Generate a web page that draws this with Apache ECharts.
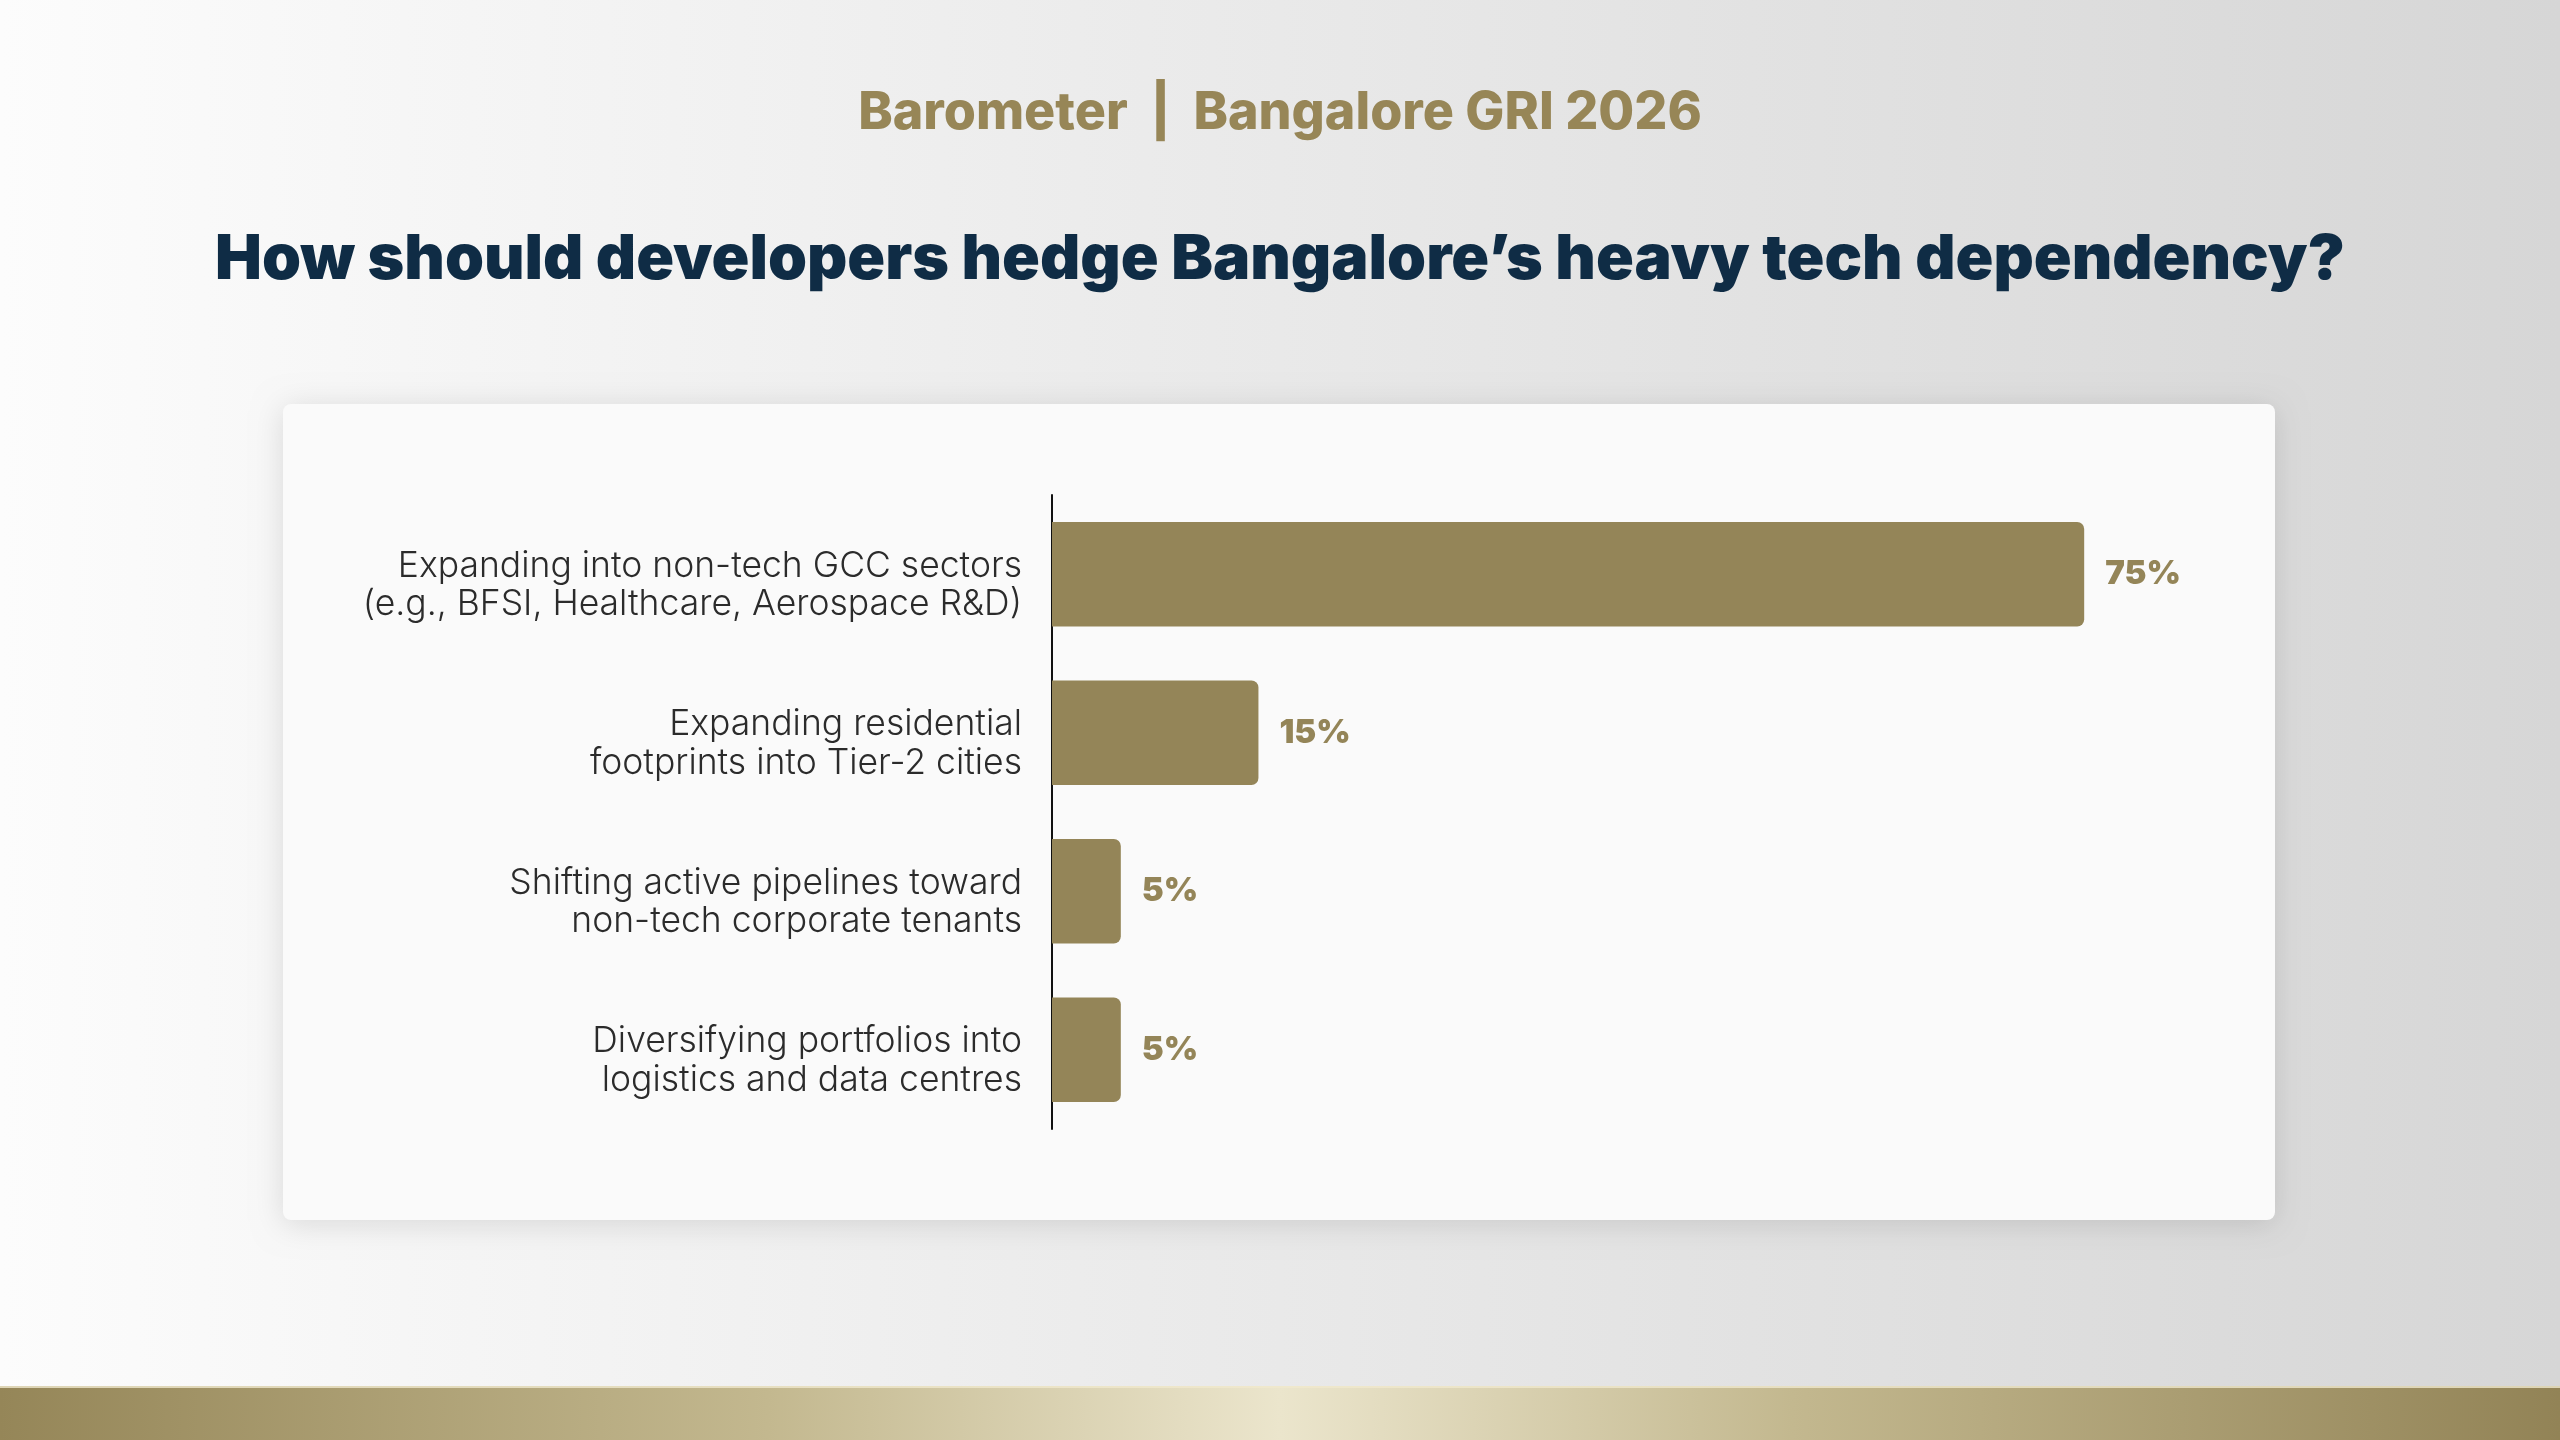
<!DOCTYPE html>
<html>
<head>
<meta charset="utf-8">
<title>Barometer | Bangalore GRI 2026</title>
<script src="https://cdn.jsdelivr.net/npm/echarts@6/dist/echarts.min.js"></script>
<style>
  html, body { margin: 0; padding: 0; }
  #chart { width: 2560px; height: 1440px; }
</style>
</head>
<body>
<div id="chart"></div>
<script>
// survey answers, top to bottom
var categories = [
    'Expanding into non-tech GCC sectors\n(e.g., BFSI, Healthcare, Aerospace R&D)',
    'Expanding residential\nfootprints into Tier-2 cities',
    'Shifting active pipelines toward\nnon-tech corporate tenants',
    'Diversifying portfolios into\nlogistics and data centres'
];
var shares = [75, 15, 5, 5];

var gold = '#948558';
var navy = '#0f2c45';
var font = 'Inter, "Noto Sans", sans-serif';

var labelFont = {
    color: '#2b2b2b',
    fontFamily: font,
    fontWeight: 300,
    fontSize: 35.5
};

var myChart = echarts.init(document.getElementById('chart'));
var option = {
    animation: false,
    title: [
        {
            text: 'Barometer  |  Bangalore GRI 2026',
            left: 'center',
            top: 82,
            textStyle: {
                color: '#978657',
                fontFamily: font,
                fontWeight: 800,
                fontSize: 52,
                lineHeight: 52
            }
        },
        {
            text: 'How should developers hedge Bangalore\u2019s heavy tech dependency?',
            left: 'center',
            top: 224,
            textStyle: {
                color: navy,
                fontFamily: font,
                fontWeight: 900,
                fontSize: 62.5,
                lineHeight: 62.5
            }
        }
    ],
    graphic: [
        {
            // page background
            type: 'rect',
            z: -10,
            silent: true,
            shape: { x: 0, y: 0, width: 2560, height: 1440 },
            style: {
                fill: new echarts.graphic.LinearGradient(0, 0, 1, 0, [
                    { offset: 0, color: '#fcfcfc' },
                    { offset: 1, color: '#d6d6d6' }
                ])
            }
        },
        {
            // white card
            type: 'rect',
            z: -5,
            silent: true,
            shape: { x: 283, y: 404, width: 1992, height: 816, r: 8 },
            style: {
                fill: '#fafafa',
                shadowBlur: 30,
                shadowColor: 'rgba(0,0,0,0.12)',
                shadowOffsetY: 4
            }
        },
        {
            // gold band at the bottom
            type: 'rect',
            z: -5,
            silent: true,
            shape: { x: 0, y: 1386, width: 2560, height: 54 },
            style: {
                fill: new echarts.graphic.LinearGradient(0, 0, 1, 0, [
                    { offset: 0, color: '#958658' },
                    { offset: 0.3, color: '#c3b88f' },
                    { offset: 0.5, color: '#ebe5cc' },
                    { offset: 0.7, color: '#c3b88f' },
                    { offset: 1, color: '#928356' }
                ])
            }
        },
        {
            type: 'rect',
            z: -4,
            silent: true,
            shape: { x: 0, y: 1386, width: 2560, height: 2 },
            style: { fill: 'rgba(240,232,205,0.8)' }
        }
    ],
    grid: {
        left: 1052,
        right: 407,
        top: 495,
        bottom: 311
    },
    xAxis: {
        type: 'value',
        min: 0,
        max: 80,
        show: false
    },
    yAxis: {
        type: 'category',
        inverse: true,
        data: categories,
        axisLine: { show: true, lineStyle: { color: '#111', width: 2 } },
        axisTick: { show: false },
        axisLabel: {
            margin: 30,
            align: 'right',
            formatter: function (v) {
                var lines = v.split('\n');
                return '{a|' + lines[0] + '}\n{b|' + lines[1] + '}';
            },
            rich: {
                // extra room above the first line pushes the pair a bit below the bar centre
                a: Object.assign({ lineHeight: 61, verticalAlign: 'bottom', align: 'right' }, labelFont),
                b: Object.assign({ lineHeight: 41, align: 'right' }, labelFont)
            }
        }
    },
    series: [
        {
            type: 'bar',
            data: shares,
            barCategoryGap: '34%',
            itemStyle: {
                color: gold,
                borderRadius: [0, 7, 7, 0]
            },
            label: {
                show: true,
                position: 'right',
                distance: 21,
                formatter: '{c}%',
                color: gold,
                fontFamily: font,
                fontWeight: 900,
                fontSize: 33
            }
        }
    ]
};

myChart.setOption(option);
</script>
</body>
</html>
